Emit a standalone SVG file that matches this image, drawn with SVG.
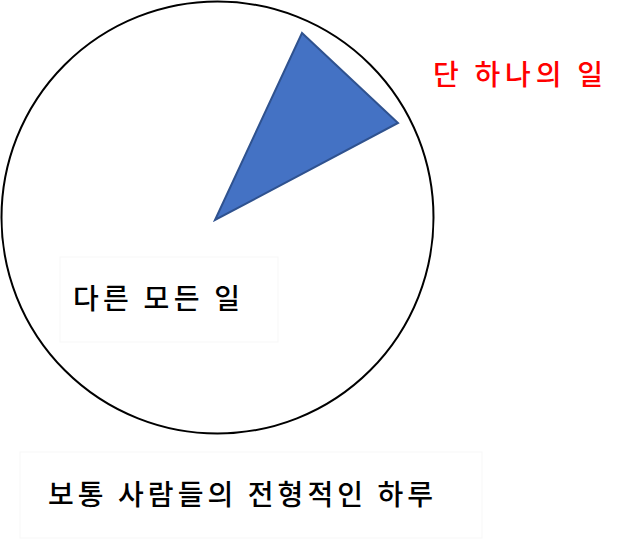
<svg xmlns="http://www.w3.org/2000/svg" width="640" height="543" viewBox="0 0 640 543">
<style>
.t{font-family:"Noto Sans CJK KR","Noto Sans",sans-serif;font-size:28px;font-weight:500;}
.box{fill:none;stroke:#f7f7f7;stroke-width:1;}
</style>
<rect width="640" height="543" fill="#ffffff"/>
<g id="pie">
<circle cx="217.5" cy="217.5" r="216" fill="#ffffff" stroke="#000000" stroke-width="2"/>
</g>
<g id="slice">
<polygon points="302,33 398,123 215,220" fill="#4472C4" stroke="#2F528F" stroke-width="2" stroke-linejoin="miter"/>
</g>
<g id="label-one">
<text class="t" x="433" y="85" fill="#FF0000" textLength="170" lengthAdjust="spacing">단 하나의 일</text>
</g>
<g id="label-other">
<rect class="box" x="60" y="257" width="218" height="85"/>
<text class="t" x="73" y="309" fill="#000000" textLength="167" lengthAdjust="spacing">다른 모든 일</text>
</g>
<g id="caption">
<rect class="box" x="20" y="452" width="462" height="86"/>
<text class="t" x="48" y="505" fill="#000000" textLength="385" lengthAdjust="spacing">보통 사람들의 전형적인 하루</text>
</g>
</svg>
